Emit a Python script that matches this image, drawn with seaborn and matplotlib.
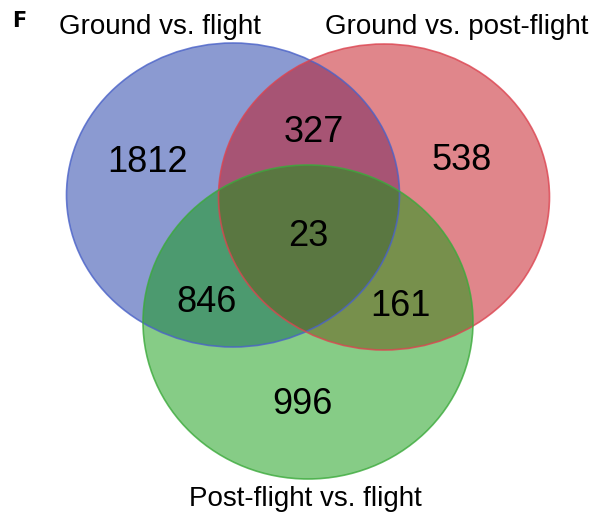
import matplotlib
matplotlib.use("Agg")
import matplotlib.pyplot as plt
from matplotlib.patches import Ellipse
import seaborn as sns

# set names and region counts
set_names = ["Ground vs. flight", "Ground vs. post-flight", "Post-flight vs. flight"]
region_labels = ["A only", "A&B", "B only", "A&B&C", "A&C", "B&C", "C only"]
region_counts = [1812, 327, 538, 23, 846, 161, 996]

sns.set_theme(style="white")
plt.rcParams["font.family"] = ["Liberation Sans", "DejaVu Sans"]

base_colors = [(25/255, 55/255, 165/255), (195/255, 15/255, 25/255), (15/255, 155/255, 15/255)]
edge_colors = ["#4a62c8", "#dc4450", "#3caa3c"]

fig = plt.figure(figsize=(6.02, 5.15), dpi=100)
ax = fig.add_axes([0, 0, 1, 1])
ax.set_xlim(0, 602)
ax.set_ylim(515, 0)
ax.set_axis_off()

# ellipse geometry (pixel coordinates)
shapes = [((233, 195), 333, 304), ((384, 197), 331, 306), ((308, 322), 330, 314)]
for (c, w, h), fc in zip(shapes, base_colors):
    ax.add_patch(Ellipse(c, w, h, facecolor=fc, alpha=0.5, edgecolor="none"))
for (c, w, h), ec in zip(shapes, edge_colors):
    ax.add_patch(Ellipse(c, w, h, facecolor="none", edgecolor=ec, lw=1.2, alpha=0.8))

region_pos = [(148, 163), (314, 132), (462, 160), (308, 236), (207, 302), (400, 307), (302, 405)]
for (x, y), n in zip(region_pos, region_counts):
    ax.text(x, y, str(n), ha="center", va="center", fontsize=26, color="black")

title_pos = [(160, 27), (457, 27), (305, 499)]
for (x, y), name in zip(title_pos, set_names):
    ax.text(x, y, name, ha="center", va="center", fontsize=20, color="black")

ax.text(19, 21, "F", ha="center", va="center", fontsize=15, fontweight="heavy",
        family="DejaVu Sans", color="black")

fig.savefig("out.png", dpi=100)
